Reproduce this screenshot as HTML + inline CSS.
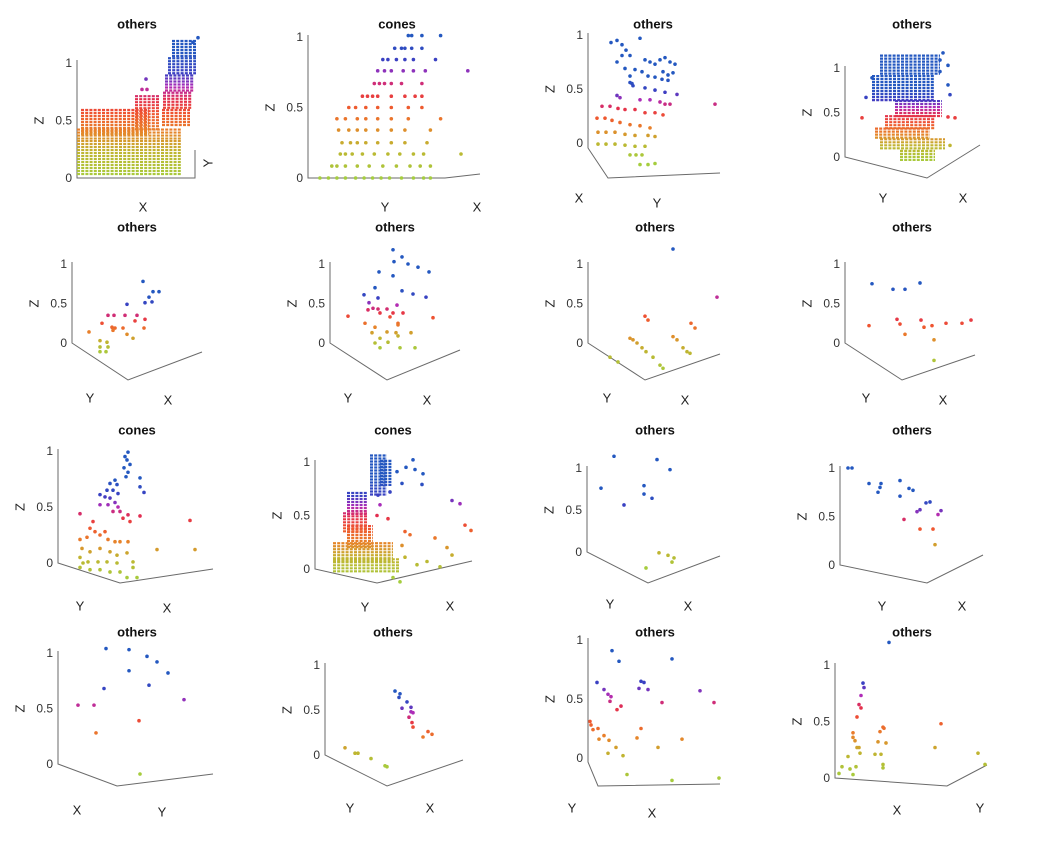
<!DOCTYPE html>
<html><head><meta charset="utf-8">
<style>
html,body{margin:0;padding:0;background:#fff;}
svg{display:block;font-family:"Liberation Sans",Arial,sans-serif;}
</style></head>
<body>
<svg id="fig" width="1039" height="842" viewBox="0 0 1039 842" xmlns="http://www.w3.org/2000/svg">
<rect width="1039" height="842" fill="#fff"/>
</svg>
<script>
// ---- data: [h, z%] per point ----
const p1Bands=[[0,52,2,33],[0,52,33,43],[2,36,38,60],[29,41,42,72],[42.5,56.5,45,60],[43,57.5,60,75],[44,58.5,75,90],[45.5,59.5,90,105],[47.5,60,105,120]];
const p1Pts=[[34.5,86],[32.5,77],[35,77],[60.5,122],[58,118]];
const p2Levels=[0,8.5,17,25,34,42,50,58,67,76,84,92,101];
const p2Rows=[[7,12,17,22,28,33,38,43,48,55,62,68,72],[14,17,22,29,36,44,52,60,66,72],[19,22,26,32,39,47,54,62,68,90],[20,25,29,34,41,49,57,70],[18,24,29,34,41,49,57,72],[17,22,29,34,41,49,59,78],[24,28,34,41,49,59,67],[32,35,38,41,49,57,63,67],[39,42,45,49,55,67],[41,45,49,56,62,69,94],[44,47,52,57,62,75],[51,55,57,61,67],[59,61,67,78]];
const p3Pts=[[11.5,93],[14.5,95],[17,91],[19,86],[17,81],[21,81],[26,97],[28.5,77],[31,75],[33.5,73],[36,77],[38.5,79],[41,75],[43.5,73],[37.5,66],[40,63],[42.5,65],[23.5,68],[27,66],[30,62],[33.5,61],[37,59],[40,58],[14.5,75],[18.5,69],[21,62],[22,55],[28.5,51],[33.5,49],[38.5,47],[44.5,45],[63.5,36],[21,56],[22.5,53],[14.5,44],[16,42],[26,40],[31,40],[36,38],[38.5,36],[41,36],[7,34],[11,34],[15,32],[18.5,31],[23.5,31],[28.5,28],[33.5,28],[37.5,26],[4.5,23],[8.5,23],[12,21],[16,19],[21,17],[26,16],[31,14],[5,10],[9,10],[13.5,10],[18.5,8],[23.5,7],[30,7],[33.5,6],[5,-1],[9,-1],[13.5,-1],[18.5,-2],[23.5,-3],[28.5,-3],[21,-11],[24,-11],[27,-11],[26,-20],[30,-20],[33.5,-19]];
const p4Bands=[[17.5,47.5,92,115],[13.5,45,64,92],[25,48.5,47,64],[20,45,33,47],[15,42.5,21,33],[17.5,50,8,21],[27.5,45,-3,8]];
const p4Pts=[[13.5,89],[10.5,67],[47.5,109],[49,117],[51.5,103],[51.5,81],[52.5,70],[51.5,45],[55,44],[8.5,44],[52.5,13],[47.5,96]];
const p5Pts=[[35.5,78],[40.5,65],[43.5,65],[38.5,58],[27.5,49],[36.5,51],[40,52],[31.5,28],[36.5,30],[36,19],[27.5,11],[30.5,6],[18,35],[21,35],[26.5,35],[32.5,35],[15,25],[20,20],[21.5,19],[20.5,16],[25.5,19],[8.5,14],[14,3],[17.5,1],[18,-5],[14,-5],[17,-11],[14,-11]];
const p6Pts=[[31.5,118],[36,109],[32,103],[39,100],[44,96],[49.5,90],[24.5,90],[31.5,85],[22.5,70],[36,66],[41.5,62],[48,58],[17,61],[24,57],[19.5,51],[33.5,48],[21.5,44],[19,42],[24,43],[28.5,43],[36.5,38],[25,38],[30,33],[31.5,38],[34,25],[9,34],[51.5,32],[34,23],[33,13],[34,9],[17.5,25],[22.5,20],[28.5,14],[21,13],[40.5,13],[25,6],[22.5,0],[29,1],[35,-6],[42.5,-6],[25,-6]];
const p7Pts=[[42.5,119],[64.5,58],[28.5,34],[30,29],[51.5,25],[53.5,19],[21,6],[22.5,4],[24.5,0],[27,-6],[29,-11],[32.5,-18],[36,-28],[37.5,-32],[42.5,8],[44.5,4],[47.5,-6],[49.5,-11],[51,-13],[11,-18],[15,-24]];
const p8Pts=[[13.5,75],[24,68],[30,68],[37.5,76],[26,30],[27.5,24],[38,29],[39.5,20],[43.5,22],[50.5,25],[58.5,25],[63,29],[30,11],[44.5,4],[12,22],[44.5,-22]];
const p9Pts=[[35,99],[33.5,95],[34.5,92],[36,88],[33,85],[35,81],[34,77],[41,76],[41,68],[43,63],[28.5,74],[29.5,70],[26,71],[24.5,65],[27.5,65],[30,62],[21,61],[23.5,59],[26,58],[28.5,54],[25,52],[30,50],[21,52],[27.5,46],[31,46],[35,43],[32.5,40],[36,37],[41,42],[11,44],[66,38],[17.5,37],[16,31],[18.5,28],[14.5,23],[21,25],[23.5,28],[25,21],[28.5,19],[31,19],[35,19],[11,21],[12,13],[16,10],[21,13],[26,10],[29.5,7],[34.5,9],[11,5],[15,1],[20,1],[24.5,1],[29.5,0],[11,-4],[16,-6],[21,-6],[26,-8],[31,-8],[37.5,1],[37.5,-4],[34.5,-13],[39.5,-13],[49.5,12],[68.5,12],[12.5,0]];
const p10Bands=[[27.5,36,69,107],[32.5,38.5,79,102],[16,26,50,72],[14,26,35,53],[16,29,20,41],[9,39,7,25],[9,42,-3,10]];
const p10Pts=[[41,91],[45.5,95],[49,102],[50,93],[54,89],[53.5,79],[43.5,80],[37.5,72],[31.5,69],[32.5,60],[31,50],[36.5,47],[68.5,64],[72.5,61],[75,41],[78,36],[45,35],[47.5,32],[60,29],[43.5,22],[66,20],[45,11],[68.5,13],[56,7],[51,4],[62.5,2],[39,-8],[42.5,-12]];
const p11Pts=[[13.5,114],[35,110],[41.5,98],[7,76],[28.5,79],[28.5,69],[32.5,64],[18.5,56],[36,-1],[40.5,-4],[43.5,-7],[42.5,-12],[29.5,-19]];
const p12Pts=[[4,100],[6,100],[14.5,84],[20.5,84],[20,80],[19,75],[30,87],[30,71],[34.5,79],[36.5,77],[43,64],[45,65],[50.5,56],[38.5,55],[40,57],[49,52],[32,47],[40,37],[46.5,37],[47.5,21]];
const p13Pts=[[24,104],[35.5,103],[44.5,97],[49.5,92],[35.5,84],[55,82],[45.5,71],[23,68],[10,53],[18,53],[63,58],[40.5,39],[19,28],[41,-9]];
const p14Pts=[[35,71],[37.5,68],[37,64],[41,59],[43,53],[38.5,52],[43,48],[44,47],[42,42],[43.5,36],[44,31],[51.5,26],[53.5,23],[49,20],[10,8],[15,2],[16.5,2],[23,-4],[31,-13],[30,-12]];
const p15Pts=[[12,91],[15.5,82],[42,84],[4.5,64],[8,58],[26.5,65],[28,64],[25.5,59],[30,58],[56,57],[63,47],[10,54],[11.5,52],[11,48],[37,47],[16.5,44],[14.5,41],[1,31],[1.5,28],[2.5,24],[5,25],[26.5,25],[24.5,17],[47,16],[5.5,16],[8,19],[10.5,15],[14,9],[10,4],[17.5,2],[35,9],[19.5,-14],[42,-19],[65.5,-17]];
const p16Pts=[[27,120],[14,84],[14.5,80],[13,73],[12,65],[13,62],[11,54],[53,48],[9,40],[9,36],[10,33],[24,45],[24.5,44],[22.5,41],[21.5,32],[25.5,31],[11,27],[12,27],[6.5,19],[12.5,22],[20,21],[23,21],[24,12],[24,9],[3.5,10],[2,4],[7.5,8],[10.5,10],[9,3],[50,27],[71.5,22],[75,12]];
const tickValues=[0,50,100];
const tickLabels=['0','0.5','1'];
const titles=['others','cones','others','others','others','others','others','others','cones','cones','others','others','others','others','others','others'];

// ---- layout ----
const panels=[
 {tx:137,ty:24,zx:77,z0:178,z1:63,hs:2,cl:[0,110],ax:[[77,60],[77,178],[195,178],[195,150]],lb:[['X',143,207,0],['Y',208,163,1]],pts:p1Pts,bands:p1Bands},
 {tx:397,ty:24,zx:308,z0:178,z1:37,hs:1.7,cl:[0,100],ax:[[308,35],[308,178],[445,178],[480,174]],lb:[['Y',385,207,0],['X',477,207,0]],pts:[],bands:[]},
 {tx:653,ty:24,zx:588,z0:143,z1:35,hs:2,cl:[-15,60],ax:[[588,33],[588,148],[608,178],[720,173]],lb:[['X',579,198,0],['Y',657,203,0]],pts:p3Pts,bands:[]},
 {tx:912,ty:24,zx:845,z0:157,z1:68,hs:2,cl:[-5,80],ax:[[845,66],[845,157],[927,178],[980,145]],lb:[['Y',883,198,0],['X',963,198,0]],pts:p4Pts,bands:p4Bands},
 {tx:137,ty:227,zx:72,z0:343,z1:264,hs:2,cl:[-15,60],ax:[[72,262],[72,343],[128,380],[202,352]],lb:[['Y',90,398,0],['X',168,400,0]],pts:p5Pts,bands:[]},
 {tx:395,ty:227,zx:330,z0:343,z1:264,hs:2,cl:[-10,70],ax:[[330,262],[330,343],[387,380],[460,350]],lb:[['Y',348,398,0],['X',427,400,0]],pts:p6Pts,bands:[]},
 {tx:655,ty:227,zx:588,z0:343,z1:264,hs:2,cl:[-40,100],ax:[[588,262],[588,343],[645,380],[720,354]],lb:[['Y',607,398,0],['X',685,400,0]],pts:p7Pts,bands:[]},
 {tx:912,ty:227,zx:845,z0:343,z1:264,hs:2,cl:[-30,70],ax:[[845,262],[845,343],[902,380],[975,355]],lb:[['Y',866,398,0],['X',943,400,0]],pts:p8Pts,bands:[]},
 {tx:137,ty:430,zx:58,z0:563,z1:451,hs:2,cl:[-15,75],ax:[[58,449],[58,563],[120,583],[213,569]],lb:[['Y',80,606,0],['X',167,608,0]],pts:p9Pts,bands:[]},
 {tx:393,ty:430,zx:315,z0:569,z1:462,hs:2,cl:[-10,85],ax:[[315,460],[315,569],[377,583],[472,561]],lb:[['Y',365,607,0],['X',450,606,0]],pts:p10Pts,bands:p10Bands},
 {tx:655,ty:430,zx:587,z0:552,z1:468,hs:2,cl:[-20,70],ax:[[587,466],[587,552],[648,583],[720,556]],lb:[['Y',610,604,0],['X',688,606,0]],pts:p11Pts,bands:[]},
 {tx:912,ty:430,zx:840,z0:565,z1:468,hs:2,cl:[0,72],ax:[[840,466],[840,565],[927,583],[983,555]],lb:[['Y',882,606,0],['X',962,606,0]],pts:p12Pts,bands:[]},
 {tx:137,ty:632,zx:58,z0:764,z1:653,hs:2,cl:[-10,80],ax:[[58,651],[58,764],[117,786],[213,774]],lb:[['X',77,810,0],['Y',162,812,0]],pts:p13Pts,bands:[]},
 {tx:393,ty:632,zx:325,z0:755,z1:665,hs:2,cl:[-15,70],ax:[[325,663],[325,755],[387,786],[463,760]],lb:[['Y',350,808,0],['X',430,808,0]],pts:p14Pts,bands:[]},
 {tx:655,ty:632,zx:588,z0:758,z1:640,hs:2,cl:[-20,80],ax:[[588,638],[588,762],[598,786],[720,784]],lb:[['Y',572,808,0],['X',652,813,0]],pts:p15Pts,bands:[]},
 {tx:912,ty:632,zx:835,z0:778,z1:665,hs:2,cl:[0,100],ax:[[835,663],[835,778],[947,786],[987,765]],lb:[['X',897,810,0],['Y',980,808,0]],pts:p16Pts,bands:[]}
];
// p2 rows -> points
p2Levels.forEach((z,i)=>p2Rows[i].forEach(h=>panels[1].pts.push([h,z])));

const stops=[[0,[165,205,62]],[0.22,[192,180,48]],[0.38,[232,130,42]],[0.52,[239,84,48]],[0.63,[227,46,78]],[0.73,[176,44,184]],[0.83,[59,63,194]],[1,[36,88,192]]];
function cmap(t){
  t=Math.max(0,Math.min(1,t));
  for(let i=1;i<stops.length;i++){
    if(t<=stops[i][0]){
      const a=stops[i-1],b=stops[i],f=(t-a[0])/(b[0]-a[0]);
      const c=a[1].map((v,k)=>Math.round(v+(b[1][k]-v)*f));
      return 'rgb('+c.join(',')+')';
    }
  }
  return 'rgb(36,88,192)';
}
const NS='http://www.w3.org/2000/svg';
const svg=document.getElementById('fig');
function mk(tag,attrs,parent){const e=document.createElementNS(NS,tag);for(const k in attrs)e.setAttribute(k,attrs[k]);parent.appendChild(e);return e;}

panels.forEach((P,i)=>{
  const span=P.z0-P.z1;
  const sx=h=>P.zx+h*P.hs;
  const sy=z=>P.z0-z/100*span;
  const col=z=>cmap((z-P.cl[0])/(P.cl[1]-P.cl[0]));
  const g=mk('g',{},svg);
  
  
  const t=mk('text',{x:P.tx,y:P.ty,'text-anchor':'middle','dominant-baseline':'central','font-size':'13','font-weight':'bold',fill:'#111'},g);
  t.textContent=titles[i];
  
  
  const ax=mk('polyline',{points:P.ax.map(p=>p.join(',')).join(' '),fill:'none',stroke:'#6a6a6a','stroke-width':'1'},g);
  
  
  tickValues.forEach((v,k)=>{
    const tl=mk('text',{x:P.zx-5,y:sy(v),'text-anchor':'end','dominant-baseline':'central','font-size':'12',fill:'#333'},g);
    tl.textContent=tickLabels[k];
    
    
  });
  const zy=sy(50);
  const zl=mk('text',{x:P.zx-38,y:zy,'text-anchor':'middle','dominant-baseline':'central','font-size':'13',fill:'#222',transform:'rotate(-90 '+(P.zx-38)+' '+zy+')'},g);
  zl.textContent='Z';
  
  
  P.lb.forEach(L=>{
    const a={x:L[1],y:L[2],'text-anchor':'middle','dominant-baseline':'central','font-size':'13',fill:'#222'};
    if(L[3])a.transform='rotate(-90 '+L[1]+' '+L[2]+')';
    const e=mk('text',a,g);
    e.textContent=L[0];
    
    
  });
  P.bands.forEach(B=>{
    const yTop=sy(B[3]),yBot=sy(B[2]);
    for(let y=yTop;y<yBot;y+=3){
      const z=(P.z0-y)/span*100;
      const r=mk('line',{x1:sx(B[0]),y1:y+1,x2:sx(B[1]),y2:y+1,stroke:col(z),'stroke-width':'2.2','stroke-dasharray':'3 1.2'},g);
      
      
    }
  });
  P.pts.forEach(p=>{
    const c=mk('circle',{cx:sx(p[0]),cy:sy(p[1]),r:1.8,fill:col(p[1])},g);
    
    
  });
});
</script>
</body></html>
